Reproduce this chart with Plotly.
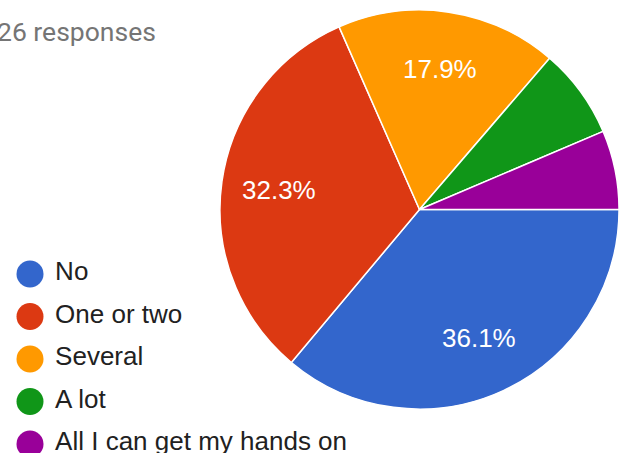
import math
import plotly.graph_objects as go

labels = ['No', 'One or two', 'Several', 'A lot', 'All I can get my hands on']
values = [36.1, 32.3, 17.9, 7.3, 6.4]
colors = ['#3366cc', '#dc3912', '#ff9900', '#109618', '#990099']
subtitle = '26 responses'

W, H = 628, 453
pie_x = [0.350, 0.986]
pie_y = [0.097, 0.978]

fig = go.Figure()

fig.add_trace(
    go.Pie(
        labels=labels,
        values=values,
        sort=False,
        direction='clockwise',
        rotation=90,
        marker=dict(colors=colors, line=dict(color='white', width=1.5)),
        textinfo='none',
        hoverinfo='label+percent',
        showlegend=False,
        domain=dict(x=pie_x, y=pie_y),
    )
)

# percentage labels like google forms: a bit further out than plotly puts them,
# and only on the bigger slices
cx = (pie_x[0] + pie_x[1]) / 2
cy = (pie_y[0] + pie_y[1]) / 2
r = (pie_x[1] - pie_x[0]) * W / 2 * 0.71
total = sum(values)
start = 0
for v in values:
    pct = v / total * 100
    mid = math.radians(-(start + pct / 2) * 3.6)
    start += pct
    if pct < 10:
        continue
    fig.add_annotation(
        text=f'{pct:.1f}%',
        xref='paper', yref='paper',
        x=cx + r * math.cos(mid) / W, y=cy + r * math.sin(mid) / H,
        xanchor='center', yanchor='middle',
        showarrow=False,
        font=dict(color='white', size=26, family='Arial, Liberation Sans'),
    )

# legend drawn as a small scatter so the keys are circles like the original
fig.add_trace(
    go.Scatter(
        x=[0] * len(labels),
        y=list(range(len(labels))),
        mode='markers+text',
        text=['\u00a0' + l for l in labels],
        textposition='middle right',
        textfont=dict(color='#212121', size=26, family='Arial, Liberation Sans'),
        marker=dict(color=colors, size=27, symbol='circle'),
        hoverinfo='skip',
        showlegend=False,
        cliponaxis=False,
    )
)

fig.add_annotation(
    text=subtitle,
    xref='paper', yref='paper',
    x=158 / W, y=1 - 31 / H,
    xanchor='right', yanchor='middle',
    showarrow=False,
    font=dict(color='#757575', size=26.5, family='Roboto, Arial'),
)

fig.update_layout(
    width=W, height=H,
    margin={'t': 0, 'r': 0, 'b': 0, 'l': 0},
    paper_bgcolor='white', plot_bgcolor='rgba(0,0,0,0)',
    xaxis=dict(visible=False, range=[-30, 598], domain=[0, 1], fixedrange=True),
    yaxis=dict(visible=False, range=[4.212, -6.447], domain=[0, 1], fixedrange=True),
)

fig.write_html("out.html", config={'displayModeBar': False},
               post_script="document.body.style.margin='0';")
